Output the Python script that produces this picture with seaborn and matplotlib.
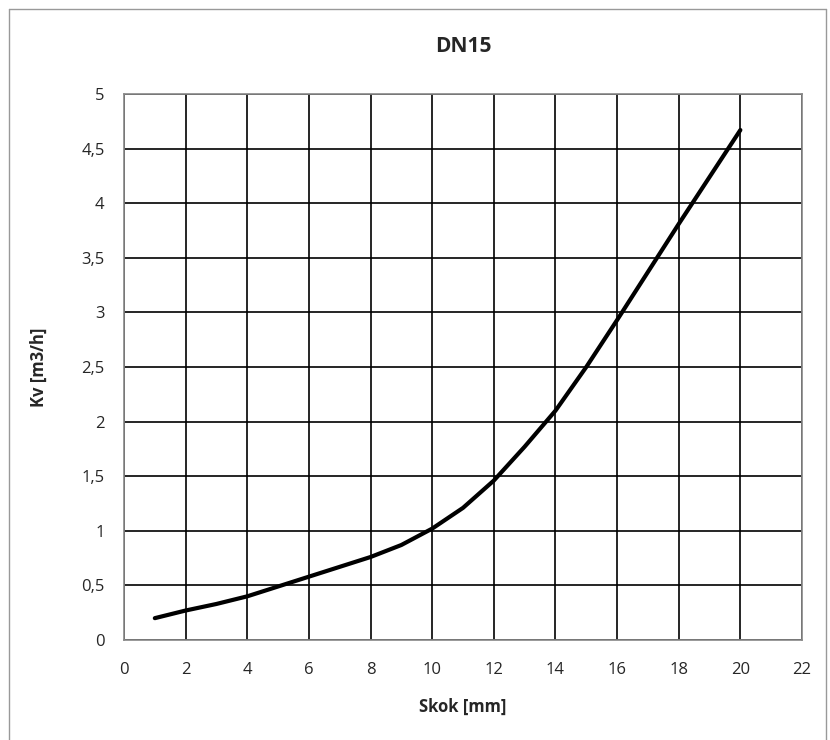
import numpy as np
import pandas as pd
import matplotlib
matplotlib.use("Agg")
import matplotlib.pyplot as plt
from matplotlib.lines import Line2D
from matplotlib.ticker import FuncFormatter
import seaborn as sns

# Kv curve for DN15
skok = [1, 2, 3, 4, 5, 6, 7, 8, 9, 10, 11, 12, 13, 14, 15, 16, 17, 18, 19, 20]
kv = [0.20, 0.27, 0.33, 0.40, 0.49, 0.58, 0.67, 0.76, 0.87, 1.02, 1.21, 1.46,
      1.77, 2.10, 2.50, 2.93, 3.37, 3.81, 4.24, 4.67]
x_ticks = list(range(0, 23, 2))
y_ticks = [0, 0.5, 1, 1.5, 2, 2.5, 3, 3.5, 4, 4.5, 5]

df = pd.DataFrame({"skok": skok, "kv": kv})

sns.set_style("white")
plt.rcParams["font.family"] = ["Open Sans", "DejaVu Sans"]

fig = plt.figure(figsize=(8.3, 7.4), dpi=100)
ax = fig.add_axes([124 / 830, 1 - 640 / 740, (802 - 124) / 830, (640 - 94) / 740])

sns.lineplot(data=df, x="skok", y="kv", color="black", linewidth=3, ax=ax)
for l in ax.lines:
    l.set_solid_joinstyle("round")
    l.set_solid_capstyle("round")

ax.set_xlim(0, 22)
ax.set_ylim(0, 5)
ax.set_xticks(x_ticks)
ax.set_yticks(y_ticks)
ax.yaxis.set_major_formatter(FuncFormatter(lambda v, p: f"{v:g}".replace(".", ",")))
ax.grid(True, color="black", linewidth=1.2)
ax.set_axisbelow(True)
for s in ax.spines.values():
    s.set_color("#888888")
    s.set_linewidth(1.2)
ax.tick_params(length=0, labelsize=12)
ax.tick_params(axis="x", pad=16)
ax.tick_params(axis="y", pad=14)

ax.set_title("DN15", fontsize=15, fontweight="bold", pad=30)
ax.set_xlabel("Skok [mm]", fontsize=12, fontweight="bold", labelpad=14)
ax.set_ylabel("Kv [m3/h]", fontsize=12, fontweight="bold", labelpad=24)

# outer chart frame
for xs, ys in [([9 / 830, 9 / 830], [0, 1 - 9 / 740]),
               ([9 / 830, 826 / 830], [1 - 9 / 740, 1 - 9 / 740]),
               ([826 / 830, 826 / 830], [0, 1 - 9 / 740])]:
    fig.add_artist(Line2D(xs, ys, color="#999999", linewidth=1, transform=fig.transFigure))

fig.savefig("out.png", dpi=100)
